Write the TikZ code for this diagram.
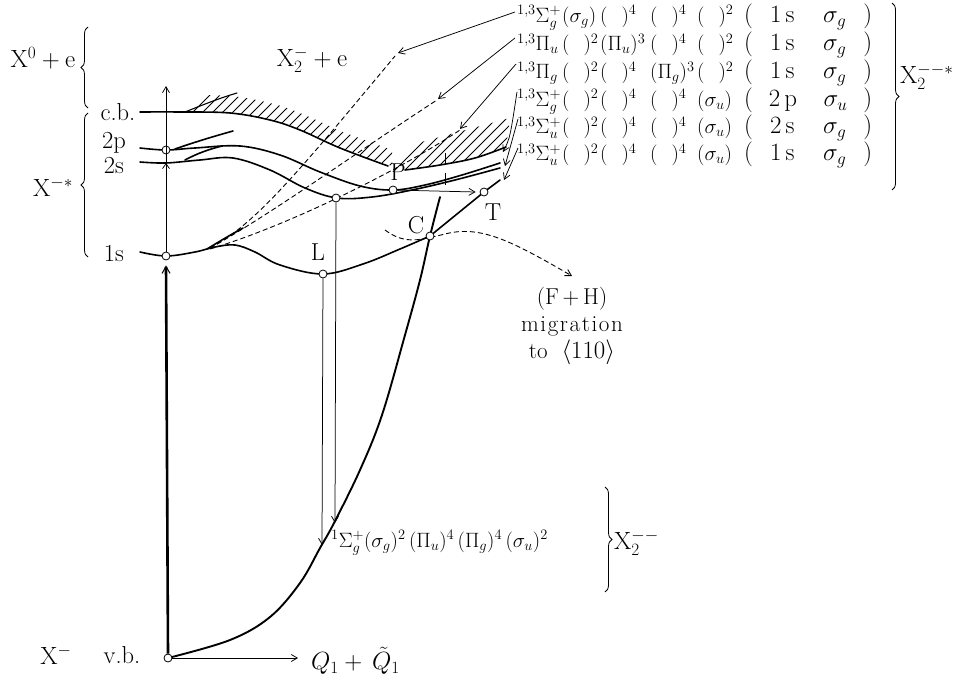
\documentclass[tikz,border=0pt]{standalone}
\usetikzlibrary{arrows.meta,decorations.pathreplacing}
\newcommand{\ep}{\hspace{14pt}}
\newcommand{\rowtext}[8]{\makebox[45pt][l]{$#1$}\makebox[38pt][l]{$#2$}\makebox[50pt][l]{$#3$}\makebox[47pt][l]{$#4$}\makebox[47pt][l]{$#5$}\makebox[128pt][s]{\fontsize{23}{26}\selectfont$(\hskip 0pt plus 0.6fil #6\,\mathrm{#7}\hfil #8\hskip 0pt plus 0.6fil)$}}
\newcommand{\ls}{\kern1.6pt}
\begin{document}
\begin{tikzpicture}[x=1pt,y=-1pt,
  lvl/.style={line width=1.6pt,line cap=round},
  fine/.style={line width=0.75pt},
  dashcurve/.style={line width=0.9pt,dash pattern=on 5pt off 3pt},
  barb/.style={-{Straight Barb[length=6pt,width=7pt]}},
  dot/.style={circle,draw,fill=white,line width=0.8pt,inner sep=0pt,minimum size=8pt},
  big/.style={font=\fontsize{24.5}{28}\selectfont,inner sep=1pt},
  lab/.style={font=\fontsize{19.5}{24}\selectfont,inner sep=0pt,anchor=west},
  brc/.style={decorate,decoration={brace,amplitude=7pt},line width=0.8pt}
]
\useasboundingbox (0,0) rectangle (963,677);

% ---------- hatching above c.b.
\begin{scope}
\clip plot[smooth,tension=0.6] coordinates {(140,112) (180,112) (230,113) (270,120) (300,130) (340,148) (392,166)}
  -- (392,150) -- plot[smooth,tension=0.6] coordinates {(340,131) (300,113) (270,103) (230,96) (180,95) (140,95)} -- cycle;
\foreach \i in {0,...,28} \draw[fine] (130+\i*10,175) -- ++(90,-90);
\end{scope}
% hatching above the right-hand curve
\begin{scope}
\clip (392,172) -- plot[smooth,tension=0.6] coordinates {(405,170) (440,165) (475,158) (506,147)} -- (510,118) -- (392,150) -- cycle;
\foreach \i in {0,...,14} \draw[fine] (380+\i*10,185) -- ++(70,-70);
\end{scope}

% ---------- level curves
\draw[lvl] plot[smooth,tension=0.6] coordinates {(140,112) (180,112) (230,113) (270,120) (300,130) (340,148) (388,166)};
\draw[lvl] plot[smooth,tension=0.6] coordinates {(405,170) (440,165) (475,158) (506,147)};
\draw[lvl,line width=1.1pt] (185,112) .. controls (205,104) and (220,98) .. (237,93);

\draw[lvl] plot[smooth,tension=0.6] coordinates {(140,148) (166,150) (195,148) (240,146) (280,155) (320,172) (360,186) (393,190) (425,185) (462,175) (500,163)};
\draw[lvl] (175,149) .. controls (195,142) and (215,136) .. (233,131);
\draw[lvl] plot[smooth,tension=0.6] coordinates {(140,162) (166,163) (200,160) (233,158) (270,170) (305,188) (337,198) (372,197) (412,190) (455,180) (500,168)};
\draw[lvl] (185,160) .. controls (198,153) and (210,149) .. (222,146);

\draw[lvl] plot[smooth,tension=0.6] coordinates {(140,252) (166,256) (195,252) (215,247) (235,245) (255,252) (280,265) (323,274) (363,264) (400,249) (430,236)} -- (484,192) -- (500,180);
\draw[lvl] (207,249) .. controls (220,241) and (232,234) .. (243,228);

% ground-state curve of X2--
\draw[lvl,line width=1.9pt] plot[smooth,tension=0.6] coordinates {(168,658) (230,640) (270,617) (300,583) (320,548) (334,523) (360,470) (382,415) (405,335) (420,280) (430,236) (440,197)};

% ticks
\draw[fine,line width=1pt] (445,153) -- (445,165);
\draw[fine,line width=1pt] (445,173) -- (445,185);

% ---------- dashed curves
\draw[dashcurve] (210,248) .. controls (255,225) and (300,170) .. (395,56);
\draw[dashcurve] (210,248) .. controls (270,215) and (360,150) .. (437,100);
\draw[dashcurve] (210,249) .. controls (290,225) and (400,170) .. (460,130);
\draw[dashcurve,barb] (385,230) .. controls (405,245) and (420,240) .. (445,234) .. controls (480,225) and (510,240) .. (572,276);

% ---------- points
\node[dot] (vb) at (168,658) {};
\node[dot] (s1) at (166,256) {};
\node[dot] (p2) at (166,150) {};
\coordinate (top) at (166,86);
\coordinate (s2) at (166,163);
\node[dot] (Lp) at (323,274) {};
\node[dot] (Sp) at (336,198) {};
\node[dot] (Pp) at (393,190) {};
\node[dot] (Tp) at (484,192) {};
\node[dot] (Cp) at (430,236) {};
\coordinate (pif) at (322,545);
\coordinate (sif) at (335,523);
\coordinate (qq) at (298,658);

% vertical axis
\draw[line width=2.6pt,-{Straight Barb[length=7pt,width=8pt,line width=1pt]}] (vb.north) -- ([yshift=-5pt]s1.south);
\draw[fine,barb] (s1) -- (top);
\draw[fine,-{Straight Barb[length=5pt,width=7pt]}] (166,172) -- (s2);
\draw[fine,barb] (vb.east) -- (qq);

% transitions
\draw[fine,barb] (Lp) -- (pif);
\draw[fine,barb] (Sp) -- (sif);
\draw[fine,barb] (Pp) -- ([xshift=-4pt]Tp.west);

% ---------- labels
\node[big] (x0e) at (43,58) {$\mathrm{X}^0+\mathrm{e}$};
\node[big] (x2e) at (312,60) {$\mathrm{X}_2^-+\mathrm{e}$};
\node[big] (xs) at (53,187) {$\mathrm{X}^{-*}$};
\node[big] (cb) at (118,112) {c.b.};
\node[big] (l2p) at (114,143) {2p};
\node[big] (l2s) at (114,165) {2s};
\node[big] (l1s) at (114,253) {1s};
\node[big] (xm) at (56,655) {$\mathrm{X}^-$};
\node[big] (vbl) at (122,655) {v.b.};
\node[big,anchor=west,font=\fontsize{23}{28}\selectfont] (qlab) at (310,661) {$Q_1+\,\tilde{Q}_1$};
\node[big] (Ll) at (318,252) {L};
\node[big] (Pl) at (398,172) {P};
\node[big] (Cl) at (416,225) {C};
\node[big] (Tl) at (493,212) {T};
\node[big,align=center,font=\fontsize{23}{27}\selectfont] (fh) at (572,326) {(F\,+\,H)\\m\ls i\ls g\ls r\ls a\ls t\ls i\ls o\ls n\\to\ \ $\langle 110\rangle$};

\draw[brc] (88,108) -- (88,27);
\draw[brc] (88,257) -- (88,113);

% ---------- right-hand configurations
\node[lab] (r1) at (517,17) {\rowtext{^{1,3}\Sigma_g^+}{(\sigma_g)}{(\ep)^4}{(\ep)^4}{(\ep)^2}{1}{s}{\sigma_g}};
\node[lab] (r2) at (517,45) {\rowtext{^{1,3}\Pi_u}{(\ep)^2}{(\Pi_u)^3}{(\ep)^4}{(\ep)^2}{1}{s}{\sigma_g}};
\node[lab] (r3) at (517,73) {\rowtext{^{1,3}\Pi_g}{(\ep)^2}{(\ep)^4}{(\Pi_g)^3}{(\ep)^2}{1}{s}{\sigma_g}};
\node[lab] (r4) at (517,101) {\rowtext{^{1,3}\Sigma_g^+}{(\ep)^2}{(\ep)^4}{(\ep)^4}{(\sigma_u)}{2}{p}{\sigma_u}};
\node[lab] (r5) at (517,128) {\rowtext{^{1,3}\Sigma_u^+}{(\ep)^2}{(\ep)^4}{(\ep)^4}{(\sigma_u)}{2}{s}{\sigma_g}};
\node[lab] (r6) at (517,155) {\rowtext{^{1,3}\Sigma_u^+}{(\ep)^2}{(\ep)^4}{(\ep)^4}{(\sigma_u)}{1}{s}{\sigma_g}};

\draw[brc] (892,3) -- (892,190);
\node[big,anchor=west] (x2s) at (899,77) {$\mathrm{X}_2^{--*}$};

\coordinate (a1) at (398,53);
\coordinate (a2) at (438,99);
\coordinate (a3) at (460,129);
\coordinate (a4) at (503,152);
\coordinate (a5) at (505,166);
\coordinate (a6) at (504,180);
\draw[fine,barb] ([xshift=-2pt,yshift=5pt]r1.west) -- (a1);
\draw[fine,barb] ([xshift=-2pt,yshift=7pt]r2.west) -- (a2);
\draw[fine,barb] ([xshift=-1pt,yshift=9pt]r3.west) -- (a3);
\draw[fine,barb] ([xshift=0pt,yshift=9pt]r4.west) .. controls (510,138) .. (a4);
\draw[fine,barb] ([xshift=1pt,yshift=9pt]r5.west) -- (a5);
\draw[fine,barb] ([xshift=1pt,yshift=7pt]r6.west) -- (a6);

% ground state configuration
\node[lab,font=\fontsize{20.5}{25}\selectfont] (gs) at (331,543) {$^{1}\Sigma_g^+(\sigma_g)^2\,(\Pi_u)^4\,(\Pi_g)^4\,(\sigma_u)^2$};
\draw[brc] (605,487) -- (605,592);
\node[big,anchor=west] (x2m) at (613,543) {$\mathrm{X}_2^{--}$};
\end{tikzpicture}
\end{document}
